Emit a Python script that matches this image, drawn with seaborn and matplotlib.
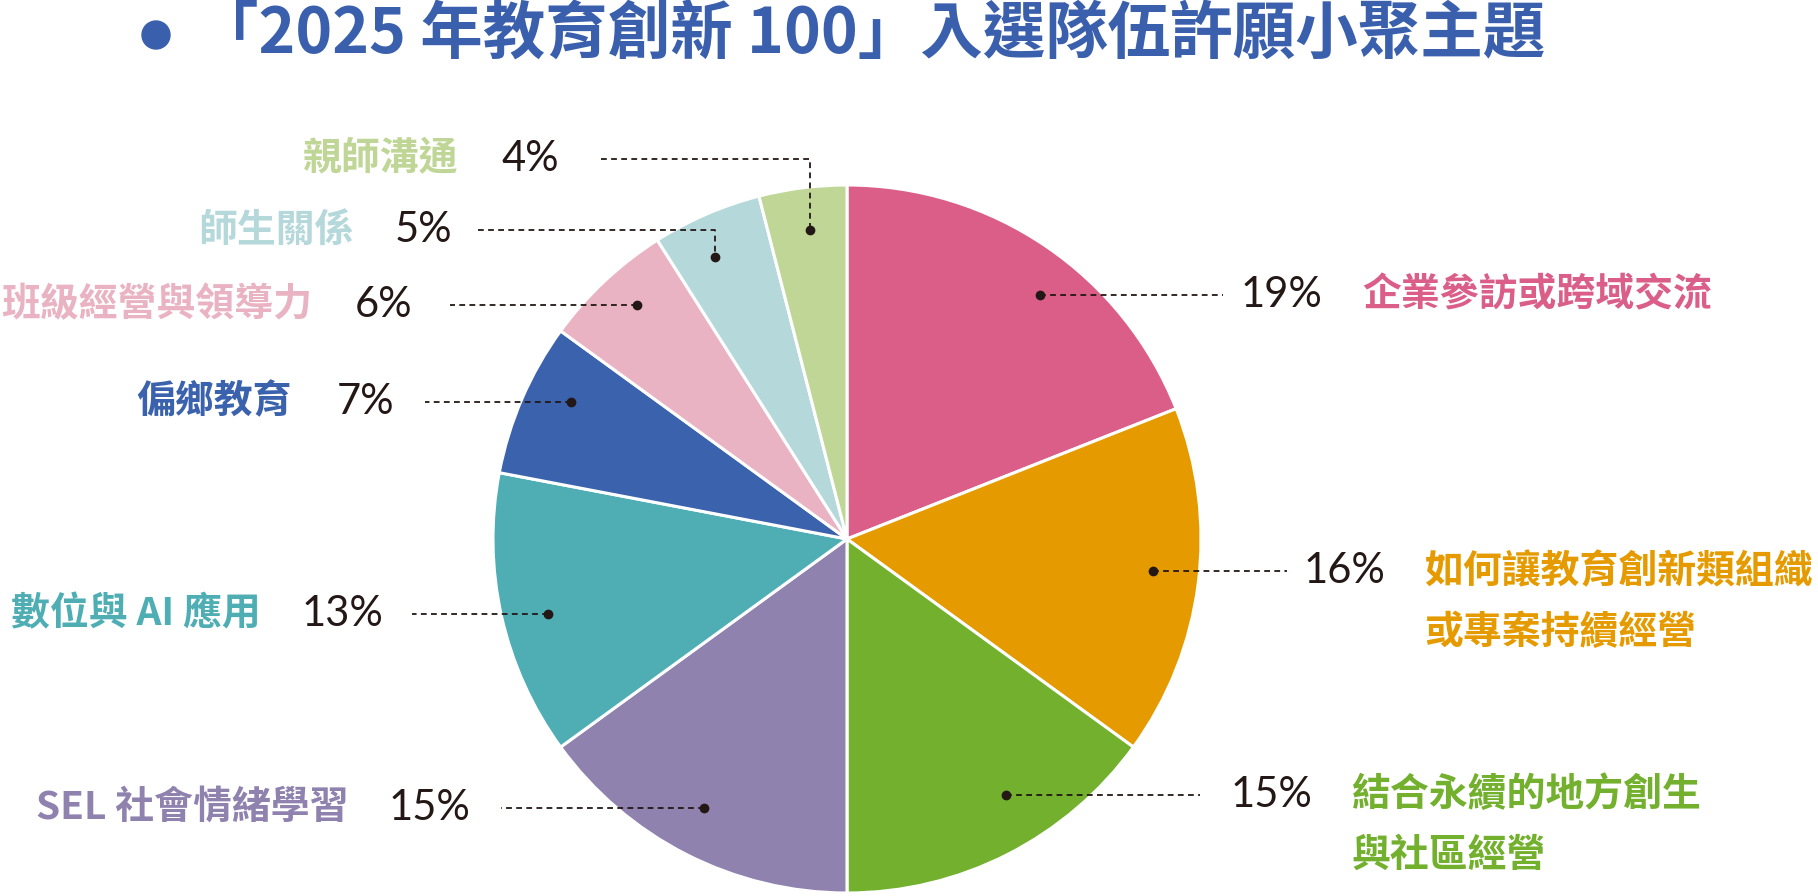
import numpy as np
import matplotlib
matplotlib.use("Agg")
import matplotlib.pyplot as plt
from matplotlib.patches import Circle
import seaborn as sns

# ---------------- data ----------------
categories = ["企業參訪或跨域交流",
              "如何讓教育創新類組織\n或專案持續經營",
              "結合永續的地方創生\n與社區經營",
              "SEL 社會情緒學習",
              "數位與 AI 應用",
              "偏鄉教育",
              "班級經營與領導力",
              "師生關係",
              "親師溝通"]
values = [19, 16, 15, 15, 13, 7, 6, 5, 4]
pct_labels = [f"{v}%" for v in values]
colors = ["#DA5E88", "#E59B00", "#72B02E", "#8F82AF", "#4EAEB4",
          "#3B62AD", "#EAB3C3", "#B5D8DB", "#BFD696"]
title = "「2025 年教育創新 100」入選隊伍許願小聚主題"

# ---------------- layout (pixel coordinates, image y downwards) ----------------
side = ["R", "R", "R", "L", "L", "L", "L", "L", "L"]
line_x = [1223, 1287, 1200, 501, 412, 425, 450, 478, 601]   # outer end of leader line
pct_x = [1241, 1304, 1231, 470, 383, 394, 412, 452, 559]
lab_x = [1362, 1424, 1351, 348, 261, 292, 312, 354, 458]
elbow_y = [None, None, None, None, None, None, None, 230, 159]
dot_frac = [0.56, 0.48, 0.41, 0.52, 0.47, 0.62, 0.56, 0.41, 0.53]  # position of dot within wedge
dot_r = [0.88, 0.87, 0.85, 0.86, 0.87, 0.87, 0.89, 0.88, 0.88]

W, H = 1818, 896
sns.set_theme(style="white")
plt.rcParams['font.family'] = ['Noto Sans CJK TC', 'DejaVu Sans']

fig = plt.figure(figsize=(W / 100, H / 100), dpi=100)
ax = fig.add_axes([0, 0, 1, 1])
cx, cy, R = 847, H - 539, 354
wedges, _ = ax.pie(values, colors=colors, startangle=90, counterclock=False,
                   center=(cx, cy), radius=R,
                   wedgeprops=dict(edgecolor="white", linewidth=2.2))
ax.set_xlim(0, W)
ax.set_ylim(0, H)
ax.set_aspect("equal")
ax.axis("off")

dash = dict(color="#231815", lw=1.3, ls=(0, (3.2, 2.4)))
pct_font = dict(family=["Lato", "DejaVu Sans"], weight="normal", size=30, color="#231815")
lab_font = dict(family=["Noto Sans CJK TC", "DejaVu Sans"], weight="bold", size=28)
line_gap = 61

for i, w in enumerate(wedges):
    # wedges are drawn clockwise: theta2 is the start (upper) edge
    ang = np.deg2rad(w.theta2 - dot_frac[i] * (w.theta2 - w.theta1))
    dx_ = cx + dot_r[i] * R * np.cos(ang)
    dy_ = cy + dot_r[i] * R * np.sin(ang)
    ax.plot([dx_], [dy_], "o", color="#231815", ms=6, zorder=5)
    if elbow_y[i] is not None:
        ty = H - elbow_y[i]
        ax.plot([line_x[i], dx_, dx_], [ty, ty, dy_], **dash, zorder=4)
    else:
        ty = dy_
        ax.plot([dx_, line_x[i]], [ty, ty], **dash, zorder=4)
    ha = "left" if side[i] == "R" else "right"
    ax.text(pct_x[i], ty, pct_labels[i], ha=ha, va="center", **pct_font)
    for j, line in enumerate(categories[i].split("\n")):
        ax.text(lab_x[i], ty - j * line_gap, line, ha=ha, va="center",
                color=colors[i], **lab_font)

# title
ax.add_patch(Circle((156, H - 35), 14, color="#3A5FAD"))
ax.text(196, H - 35, title, ha="left", va="center", fontsize=45,
        fontweight="bold", color="#3A5FAD")

fig.savefig("out.png", dpi=100)
